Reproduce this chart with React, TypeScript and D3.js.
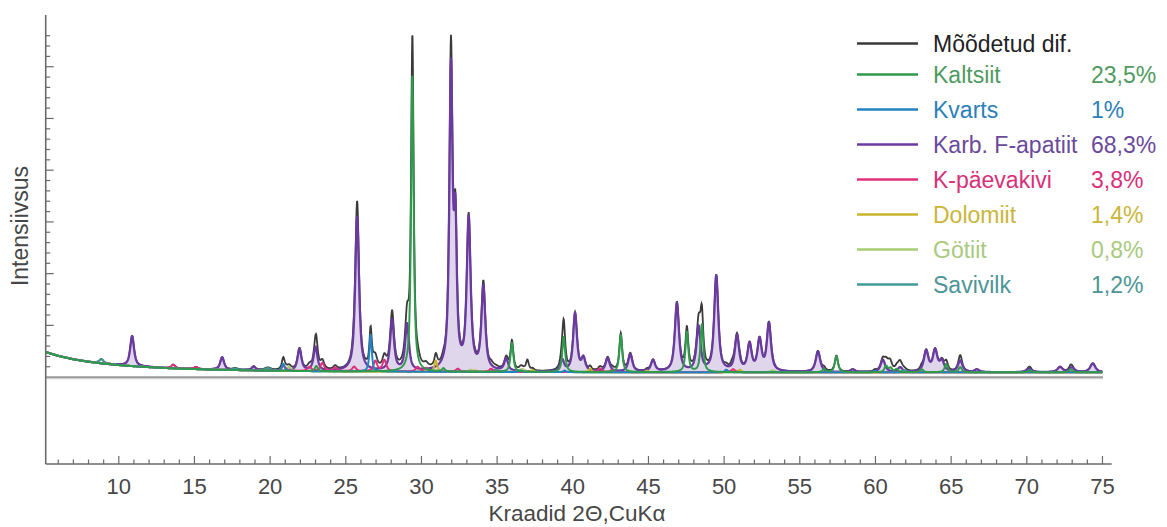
import React from 'react';
import * as d3 from 'd3';

type Peak = [number, number, number]; // [2θ, height, FWHM]

// background control points
const bgTheta = [5.17, 6, 7, 8, 9, 10, 11, 12, 13, 14, 16, 18, 20, 23, 26, 30, 40, 50, 60, 75.6];
const bgIntensity = [2.42, 2.05, 1.72, 1.48, 1.3, 1.16, 1.05, 0.96, 0.88, 0.82, 0.73, 0.67, 0.62, 0.57, 0.54, 0.52, 0.48, 0.47, 0.46, 0.46];

const apatitePeaks: Peak[] = [
  [10.88, 2.9, 0.3], [16.83, 1.2, 0.3], [18.92, 0.35, 0.3], [21.94, 2.1, 0.3], [23.0, 2.3, 0.3],
  [25.75, 14.9, 0.3], [28.06, 4.9, 0.3], [29.05, 4.5, 0.3], [31.95, 28.7, 0.25], [32.24, 13.0, 0.22],
  [33.12, 14.6, 0.3], [34.09, 8.0, 0.3], [35.6, 1.2, 0.3], [39.3, 1.1, 0.3], [40.15, 5.6, 0.3],
  [40.7, 1.2, 0.3], [42.3, 1.3, 0.32], [43.8, 1.7, 0.32], [45.3, 1.1, 0.32], [46.88, 6.6, 0.32],
  [48.31, 4.3, 0.32], [49.48, 9.2, 0.32], [50.85, 3.4, 0.32], [51.68, 2.6, 0.32], [52.34, 3.0, 0.32],
  [52.96, 4.6, 0.32], [56.2, 2.0, 0.35], [58.5, 0.25, 0.35], [60.49, 1.2, 0.35], [61.63, 0.45, 0.35],
  [63.35, 2.0, 0.35], [63.94, 2.05, 0.35], [64.39, 1.0, 0.35], [65.6, 1.1, 0.35], [66.7, 0.25, 0.35],
  [70.15, 0.35, 0.4], [72.2, 0.5, 0.4], [72.97, 0.45, 0.4], [74.36, 0.85, 0.4],
];

const calcitePeaks: Peak[] = [
  [23.05, 0.5, 0.22], [29.4, 28.8, 0.2], [31.45, 0.3, 0.22], [35.98, 2.8, 0.22], [39.4, 3.4, 0.22],
  [43.17, 3.6, 0.22], [47.54, 3.9, 0.22], [48.53, 4.6, 0.22], [56.6, 0.3, 0.25], [57.42, 1.55, 0.25],
  [60.7, 0.6, 0.25], [61.0, 0.4, 0.25], [61.4, 0.3, 0.25], [63.05, 0.3, 0.25], [64.68, 0.8, 0.25],
  [65.6, 0.5, 0.25], [70.2, 0.2, 0.28], [72.9, 0.3, 0.28],
];

const quartzPeaks: Peak[] = [
  [20.86, 0.7, 0.2], [26.64, 3.6, 0.18], [36.54, 0.15, 0.2], [39.46, 0.15, 0.2], [50.14, 0.25, 0.22], [59.96, 0.15, 0.22],
];

const feldsparPeaks: Peak[] = [
  [13.6, 0.35, 0.3], [15.1, 0.2, 0.3], [20.9, 0.5, 0.3], [22.6, 0.4, 0.3], [23.45, 0.8, 0.3],
  [24.3, 0.35, 0.3], [25.55, 0.45, 0.3], [26.95, 1.0, 0.3], [27.55, 1.1, 0.3], [29.75, 0.45, 0.3],
  [30.3, 0.35, 0.3], [32.4, 0.3, 0.3], [34.6, 0.3, 0.3], [41.8, 0.35, 0.3], [42.6, 0.2, 0.3], [50.6, 0.3, 0.3],
];

const dolomitePeaks: Peak[] = [
  [30.95, 1.1, 0.22], [33.55, 0.15, 0.22], [37.35, 0.2, 0.22], [41.15, 0.35, 0.22], [44.9, 0.15, 0.22], [50.5, 0.2, 0.22], [51.05, 0.25, 0.22],
];

const goethitePeaks: Peak[] = [
  [21.25, 0.4, 0.35], [33.25, 0.2, 0.35], [36.65, 0.3, 0.35], [53.2, 0.2, 0.35],
];

const clayPeaks: Peak[] = [
  [8.85, 0.4, 0.35], [17.7, 0.15, 0.4], [19.85, 0.25, 0.5], [26.8, 0.3, 0.3], [34.9, 0.2, 0.5], [61.9, 0.2, 0.4],
];

// where the measured pattern rises above the sum of the phases
const residualPeaks: Peak[] = [
  [23.05, 0.7, 0.22], [25.75, 1.3, 0.28], [28.06, 0.6, 0.28], [29.4, 3.1, 0.2], [31.95, 2.2, 0.22],
  [34.09, 0.4, 0.28], [37.0, 1.0, 0.22], [39.4, 0.6, 0.22], [48.4, 0.3, 0.3], [60.9, 0.7, 0.35], [61.6, 0.5, 0.35],
];

const legendNames = ['Mõõdetud dif.', 'Kaltsiit', 'Kvarts', 'Karb. F-apatiit', 'K-päevakivi', 'Dolomiit', 'Götiit', 'Savivilk'];
const legendPercents = ['', '23,5%', '1%', '68,3%', '3,8%', '1,4%', '0,8%', '1,2%'];
const xTickLabels = [10, 15, 20, 25, 30, 35, 40, 45, 50, 55, 60, 65, 70, 75];

const lineColors = ['#3a3a3a', '#2f9a4c', '#2283c2', '#6a3aa0', '#e0307c', '#c9b52c', '#a6cc72', '#3f9a96'];
const textColors = ['#222222', '#4f9a60', '#2b80b8', '#6a4a9c', '#d8307a', '#c9b63a', '#a9c97e', '#4b9595'];

const FONT = '"Liberation Sans", Arial, Helvetica, sans-serif';
const ETA = 0.8;

function profile(t: number, peaks: Peak[]): number {
  let s = 0;
  for (const [c, h, w] of peaks) {
    const d = (t - c) / w;
    const d2 = 4 * d * d;
    s += h * (ETA / (1 + d2) + (1 - ETA) * Math.exp(-Math.LN2 * d2));
  }
  return s;
}

export default function App() {
  const W = 1167, H = 527;
  const x = d3.scaleLinear().domain([5.17, 75.61]).range([45.7, 1111.7]);
  const y = d3.scaleLinear().domain([-8.4, 35]).range([464, 15]);
  const bg = d3.scaleLinear().domain(bgTheta).range(bgIntensity).clamp(true);

  const thetas = d3.range(5.17, 75.001, 0.02);
  const phases = [calcitePeaks, quartzPeaks, apatitePeaks, feldsparPeaks, dolomitePeaks, goethitePeaks, clayPeaks];

  const phaseData = phases.map(p => thetas.map(t => [t, bg(t) + profile(t, p)] as [number, number]));
  const measured = thetas.map((t, i) => {
    let v = bg(t) + profile(t, residualPeaks);
    for (const pd of phaseData) v += pd[i][1] - bg(t);
    return [t, v] as [number, number];
  });

  const line = d3.line<[number, number]>().x(d => x(d[0])).y(d => y(d[1]));
  const area = d3.area<[number, number]>().x(d => x(d[0])).y0(d => y(bg(d[0]))).y1(d => y(d[1]));

  // draw order: apatite, clay, goethite, dolomite, feldspar, quartz, calcite
  const order = [2, 6, 5, 4, 3, 1, 0];

  const xTicks = d3.range(6, 76, 1);
  const yTicks = d3.range(1, 34, 1);

  const legendY = (i: number) => (i === 0 ? 43.5 : 74.5 + 35 * (i - 1));

  return (
    <svg width={W} height={H} style={{ position: 'absolute', left: 0, top: 0, background: '#fff' }} fontFamily={FONT}>
      <rect x={0} y={0} width={W} height={H} fill="#fff" />
      {/* zero line */}
      <line x1={x(5.17)} x2={1103} y1={y(0) + 1.5} y2={y(0) + 1.5} stroke="#d0d0d0" strokeWidth={1.5} />
      <line x1={x(5.17)} x2={1103} y1={y(0)} y2={y(0)} stroke="#9a9a9a" strokeWidth={1.8} />
      {/* measured */}
      <path d={line(measured) || ''} fill="none" stroke={lineColors[0]} strokeWidth={1.8} />
      {/* apatite fill */}
      <path d={area(phaseData[2]) || ''} fill="#d9cfe8" fillOpacity={0.85} stroke="none" />
      {order.map(k => (
        <path key={k} d={line(phaseData[k]) || ''} fill="none" stroke={lineColors[k + 1]} strokeWidth={k === 2 ? 2.3 : 2} strokeLinejoin="round" />
      ))}
      {/* axes */}
      <line x1={45.7} x2={45.7} y1={15} y2={464} stroke="#6a6a6a" strokeWidth={1.6} />
      <line x1={45.7} x2={1111.7} y1={464} y2={464} stroke="#6a6a6a" strokeWidth={1.6} />
      {yTicks.map(k => (
        <line key={'y' + k} x1={45.7} x2={45.7 + (k % 5 === 0 ? 8 : 4.5)} y1={y(k)} y2={y(k)} stroke="#6a6a6a" strokeWidth={1.2} />
      ))}
      {xTicks.map(t => (
        <line key={'x' + t} x1={x(t)} x2={x(t)} y1={464} y2={464 - (t % 5 === 0 ? 8 : 4.5)} stroke="#6a6a6a" strokeWidth={1.2} />
      ))}
      {xTickLabels.map(t => (
        <text key={'l' + t} x={x(t)} y={494} textAnchor="middle" fontSize={22} fill="#474747">{t}</text>
      ))}
      <text x={577} y={521} textAnchor="middle" fontSize={22.5} fill="#474747">Kraadid 2Θ,CuKα</text>
      <text transform="translate(28,226) rotate(-90)" textAnchor="middle" fontSize={23} fill="#474747">Intensiivsus</text>
      {/* legend */}
      {legendNames.map((n, i) => (
        <g key={n}>
          <line x1={857} x2={918} y1={legendY(i)} y2={legendY(i)} stroke={lineColors[i]} strokeWidth={2.5} />
          <text x={933} y={legendY(i) + 8.2} fontSize={23} fill={textColors[i]}>{n}</text>
          {legendPercents[i] && (
            <text x={1091} y={legendY(i) + 8.2} fontSize={23} fill={textColors[i]}>{legendPercents[i]}</text>
          )}
        </g>
      ))}
    </svg>
  );
}
